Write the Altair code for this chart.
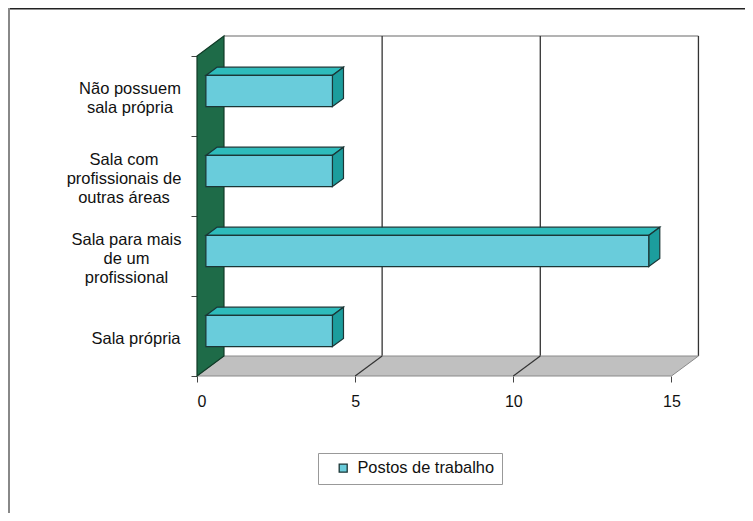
import json
import altair as alt
import pandas as pd

# ---------------- data (top to bottom as in the picture) ----------------
categories = [
    "Não possuem sala própria",
    "Sala com profissionais de outras áreas",
    "Sala para mais de um profissional",
    "Sala própria",
]
label_lines = [
    ["Não possuem", "sala própria"],
    ["Sala com", "profissionais de", "outras áreas"],
    ["Sala para mais", "de um", "profissional"],
    ["Sala própria"],
]
values = [4, 4, 14, 4]
series_name = "Postos de trabalho"
x_ticks = [0, 5, 10, 15]

# ---------------- layout / style ----------------
label_pad = [61.5, 67.5, 65, 55.5]   # per-label padding so each block ends near the axis

N = len(categories)
XMAX = 15
DX = 0.853      # depth offset in value units
DY = 0.25       # depth offset in category units
F1, F2 = 0.33, 0.74   # bar front / back depth fraction
HH = 0.195      # bar half height (category units)
COFF = -0.02
PX_PER_Y = 340 / 4.25
LH = 19

FRONT = "#69CCDB"
TOPC = "#2EBBBB"
SIDE = "#1C9D9D"
EDGE = "#1b3636"
GREEN = "#1E6B48"
FLOOR = "#C0C0C0"

front_rows, top_rows, side_rows = [], [], []
for k, (cat, v) in enumerate(zip(categories, values)):
    i = N - 1 - k
    c = i + 0.5 + COFF
    front_rows.append(dict(cat=cat, series=series_name,
                           x=F1 * DX, x2=v + F1 * DX,
                           y=c - HH + F1 * DY, y2=c + HH + F1 * DY))
    top_rows += [
        dict(cat=cat, y=c + HH + F1 * DY, x=F1 * DX, x2=v + F1 * DX),
        dict(cat=cat, y=c + HH + F2 * DY, x=F2 * DX, x2=v + F2 * DX),
    ]
    side_rows += [
        dict(cat=cat, x=v + F1 * DX, y=c - HH + F1 * DY, y2=c + HH + F1 * DY),
        dict(cat=cat, x=v + F2 * DX, y=c - HH + F2 * DY, y2=c + HH + F2 * DY),
    ]

front_df = pd.DataFrame(front_rows)
top_df = pd.DataFrame(top_rows)
side_df = pd.DataFrame(side_rows)

wall_df = pd.DataFrame([dict(x=0, y=0, y2=N), dict(x=DX, y=DY, y2=N + DY)])
floor_df = pd.DataFrame([dict(y=0, x=0, x2=XMAX), dict(y=DY, x=DX, x2=XMAX + DX)])
back_df = pd.DataFrame([dict(x=DX, x2=XMAX + DX, y=DY, y2=N + DY)])
grid_df = pd.DataFrame([dict(x=t + DX, y=DY, y2=N + DY) for t in x_ticks if t > 0])
diag_df = pd.DataFrame([dict(x=t, x2=t + DX, y=0, y2=DY) for t in x_ticks if 0 < t < XMAX])
one = pd.DataFrame([dict(a=1)])

xs = alt.Scale(domain=[0, 16.25], nice=False, zero=False)
ys = alt.Scale(domain=[0, 4.25], nice=False, zero=False)

rev_lines = list(reversed(label_lines))
rev_pad = list(reversed(label_pad))
label_expr = ("datum.value % 1 == 0 ? '' : "
              + json.dumps(rev_lines, ensure_ascii=False)
              + "[floor(datum.value)]")

# tick positions: category boundaries + label anchors (first line placed so block is centred)
y_values = [float(i) for i in range(N + 1)] + [
    i + 0.5 + (len(rev_lines[i]) - 1) * LH / 2 / PX_PER_Y for i in range(N)
]

FONT = "Liberation Sans"


def build(multi_cond):
    if multi_cond:
        pad = {"condition": [{"test": f"floor(datum.value) == {i}", "value": rev_pad[i]}
                             for i in range(N)], "value": 63}
    else:
        pad = 63
    x_axis = alt.Axis(values=x_ticks, domain=False, grid=False, tickSize=6,
                      tickColor="#444", tickWidth=1, labelFontSize=16, labelFont=FONT,
                      labelColor="#111", labelPadding=11, title=None)
    y_axis = alt.Axis(values=y_values, domain=False, grid=False,
                      tickSize=6, tickColor="#444", tickWidth=1,
                      tickOpacity={"condition": {"test": "datum.value % 1 == 0", "value": 1},
                                   "value": 0},
                      labelExpr=label_expr, labelAlign="center", labelBaseline="middle",
                      labelPadding=pad, labelFontSize=16.5, labelFont=FONT, labelColor="#111",
                      labelLineHeight=LH, labelOverlap=False, labelLimit=0, labelOffset=2,
                      title=None)

    def X(f):
        return alt.X(f, scale=xs, axis=x_axis)

    def Y(f):
        return alt.Y(f, scale=ys, axis=y_axis)

    frame_top = alt.Chart(one).mark_rule(color="#222", strokeWidth=1.5).encode(
        x=alt.value(-188.5), x2=alt.value(548), y=alt.value(-27.3))
    frame_left = alt.Chart(one).mark_rule(color="#888", strokeWidth=2).encode(
        x=alt.value(-188), y=alt.value(-28), y2=alt.value(480))

    back = alt.Chart(back_df).mark_rect(fill="white", stroke=None).encode(
        x=X("x:Q"), x2="x2", y=Y("y:Q"), y2="y2")
    back_top = alt.Chart(back_df).mark_rule(color="#9a9a9a", strokeWidth=1.5).encode(
        x=X("x:Q"), x2="x2", y=Y("y2:Q"))
    grid = alt.Chart(grid_df).mark_rule(color="#333", strokeWidth=1.3).encode(
        x=X("x:Q"), y=Y("y:Q"), y2="y2")
    floor = alt.Chart(floor_df).mark_area(orient="horizontal", fill=FLOOR, stroke="#8a8a8a",
                                           strokeWidth=1).encode(
        y=Y("y:Q"), x=X("x:Q"), x2="x2")
    diag = alt.Chart(diag_df).mark_rule(color="#333", strokeWidth=1.2).encode(
        x=X("x:Q"), x2="x2", y=Y("y:Q"), y2="y2")
    wall = alt.Chart(wall_df).mark_area(orient="vertical", fill=GREEN, stroke="#0f3a26",
                                         strokeWidth=1.2).encode(
        x=X("x:Q"), y=Y("y:Q"), y2="y2")

    tops = alt.Chart(top_df).mark_area(orient="horizontal", fill=TOPC, stroke=EDGE,
                                        strokeWidth=1.2).encode(
        y=Y("y:Q"), x=X("x:Q"), x2="x2", detail="cat:N")
    sides = alt.Chart(side_df).mark_area(orient="vertical", fill=SIDE, stroke=EDGE,
                                          strokeWidth=1.2).encode(
        x=X("x:Q"), y=Y("y:Q"), y2="y2", detail="cat:N")
    fronts = alt.Chart(front_df).mark_rect(stroke=EDGE, strokeWidth=1.2).encode(
        x=X("x:Q"), x2="x2", y=Y("y:Q"), y2="y2",
        color=alt.Color("series:N", scale=alt.Scale(range=[FRONT]),
                        legend=alt.Legend(orient="none", legendX=121, legendY=417, title=None,
                                          symbolType="square", symbolSize=64,
                                          symbolStrokeColor=EDGE, symbolStrokeWidth=1.3,
                                          labelFontSize=16.4, labelFont=FONT,
                                          labelColor="#111",
                                          padding=7, strokeColor="#999", fillColor="white",
                                          symbolOffset=10, labelOffset=6,
                                          labelExpr="datum.label + '\u00a0\u00a0\u00a0'")))

    ch = alt.layer(
        frame_top, frame_left, back, back_top, grid, floor, diag, wall, tops, sides, fronts
    ).properties(
        width=514, height=340,
        padding={"left": 189, "top": 28, "right": 34, "bottom": 137},
        autosize=alt.AutoSizeParams(type="none"),
        background="white",
    ).configure_view(stroke=None)
    ch.to_dict()
    return ch


try:
    chart = build(True)
except Exception:
    chart = build(False)

chart.save("out.html", embed_options={"renderer": "svg", "actions": False})
